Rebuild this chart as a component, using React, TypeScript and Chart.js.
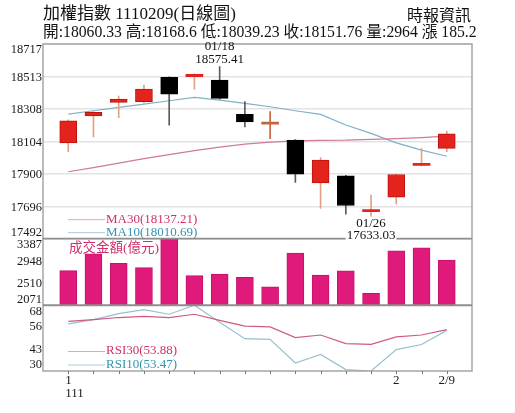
import { useEffect, useRef } from "react";
import { Chart, registerables } from "chart.js";

Chart.register(...registerables);

// ---- data ----
const dates = ["01/10", "01/11", "01/12", "01/13", "01/14", "01/17", "01/18", "01/19", "01/20", "01/21", "01/24", "01/25", "01/26", "02/07", "02/08", "02/09"];
const opens = [18095, 18265, 18350, 18354, 18507, 18511, 18490, 18274, 18213, 18112, 17843, 17888, 17662, 17753, 17953, 18060.33];
const closes = [18234, 18287, 18371, 18434, 18402, 18526, 18375, 18226, 18213, 17898, 17986, 17701, 17674.4, 17896, 17963, 18151.76];
const highs = [18240, 18292, 18389, 18459, 18510, 18530, 18575.41, 18354, 18291, 18115, 18003, 17890, 17766, 17898, 18060, 18168.6];
const lows = [18039, 18133, 18253, 18347, 18207, 18432, 18370, 18196, 18121, 17846, 17682, 17646, 17633.03, 17709, 17950, 18039.23];
const ma10 = [18276, 18297, 18318, 18339, 18360, 18381, 18364, 18343, 18322, 18297, 18274, 18207, 18155, 18095, 18049, 18010.69];
const ma30 = [17913, 17939, 17967, 17996, 18021, 18046, 18068, 18087, 18100, 18108, 18111, 18112, 18117, 18122, 18128, 18137.21];
const volumes = [2755, 3088, 2902, 2815, 3520, 2655, 2689, 2623, 2436, 3102, 2669, 2749, 2304, 3148, 3208, 2964];
const rsi30 = [58.7, 59.7, 60.9, 61.6, 60.9, 62.8, 59.3, 55.9, 55.5, 49.3, 50.8, 45.8, 45.4, 49.7, 50.8, 53.88];
const rsi10 = [57.2, 59.7, 63.2, 65.5, 62.8, 68.0, 58.2, 48.7, 48.3, 34.6, 39.6, 30.8, 30.0, 42.4, 45.3, 53.47];

const priceTicks = [17492, 17696, 17900, 18104, 18308, 18513, 18717];
const volTicks = [2071, 2510, 2948, 3387];
const rsiTicks = [30, 43, 56, 68];
const xTickPositions = [1, 14, 16];
const xTickLabels = [["1", "111"], ["2"], ["2/9"]];

const titleText = "加權指數 1110209(日線圖)";
const sourceText = "時報資訊";
const summaryText = "開:18060.33 高:18168.6 低:18039.23 收:18151.76 量:2964 漲 185.2";
const volTitle = "成交金額(億元)";
const highIndex = 6;
const lowIndex = 12;

const SERIF = '"Liberation Serif", "Noto Sans CJK TC", serif';
const UP = "#e5231d";
const UP_BORDER = "#b8140f";
const UP_WICK = "#e6a084";
const DOWN = "#000000";
const DOWN_WICK = "#5c5c5c";
const FLAT = "#c8643c";
const PINK_TEXT = "#d02f6e";
const BLUE_TEXT = "#2f95b5";

export default function App() {
  const ref = useRef<HTMLCanvasElement | null>(null);

  useEffect(() => {
    if (!ref.current) return;
    const xs = opens.map((_, i) => i + 1);
    const kind = (i: number) => (closes[i] === opens[i] ? 0 : closes[i] > opens[i] ? 1 : -1);

    const panelPlugin = {
      id: "panelPlugin",
      beforeDatasetDraw(chart: any, args: any) {
        const ds = chart.data.datasets[args.index];
        const ys = chart.scales[ds.yAxisID];
        const ca = chart.chartArea;
        const ctx = chart.ctx;
        ctx.save();
        ctx.beginPath();
        ctx.rect(ca.left, ys.top, ca.right - ca.left, ys.bottom - ys.top);
        ctx.clip();
      },
      afterDatasetDraw(chart: any) {
        chart.ctx.restore();
      },
      afterDraw(chart: any) {
        const ctx = chart.ctx;
        const ca = chart.chartArea;
        const sx = chart.scales.x;
        const yp = chart.scales.yPrice;
        const yv = chart.scales.yVol;
        const yr = chart.scales.yRsi;
        ctx.save();

        // frame & separators
        ctx.strokeStyle = "#a6a6a6";
        ctx.lineWidth = 1.5;
        ctx.strokeRect(ca.left, ca.top, ca.right - ca.left, ca.bottom - ca.top);
        ctx.strokeStyle = "#8e8e8e";
        ctx.lineWidth = 1.8;
        for (const yy of [yv.top, yr.top]) {
          ctx.beginPath();
          ctx.moveTo(ca.left, yy);
          ctx.lineTo(ca.right, yy);
          ctx.stroke();
        }

        // bottom tick marks
        ctx.strokeStyle = "#777";
        ctx.lineWidth = 1;
        xs.forEach((x) => {
          const px = Math.round(sx.getPixelForValue(x)) + 0.5;
          ctx.beginPath();
          ctx.moveTo(px, ca.bottom);
          ctx.lineTo(px, ca.bottom + 3);
          ctx.stroke();
        });

        // titles
        ctx.fillStyle = "#111";
        ctx.textBaseline = "middle";
        ctx.textAlign = "left";
        ctx.font = `17px ${SERIF}`;
        ctx.fillText(titleText, ca.left, 15);
        ctx.font = `15.7px ${SERIF}`;
        ctx.fillText(summaryText, ca.left, 32.5);
        ctx.font = `16px ${SERIF}`;
        ctx.textAlign = "right";
        ctx.fillText(sourceText, ca.right - 1, 17);

        // y tick labels
        ctx.font = `12.5px ${SERIF}`;
        ctx.fillStyle = "#1a1a1a";
        ctx.textAlign = "right";
        const drawTicks = (scale: any, ticks: number[]) => {
          ticks.forEach((v) => {
            let y = scale.getPixelForValue(v) + 1;
            y = Math.max(scale.top + 6, Math.min(scale.bottom - 6, y));
            ctx.fillText(String(v), ca.left - 1, y);
          });
        };
        drawTicks(yp, priceTicks);
        drawTicks(yv, volTicks);
        drawTicks(yr, rsiTicks);

        // x labels
        ctx.font = `13px ${SERIF}`;
        xTickPositions.forEach((pos, k) => {
          const px = sx.getPixelForValue(pos);
          const lines = xTickLabels[k];
          ctx.textAlign = lines.length > 1 ? "left" : "center";
          lines.forEach((t, j) => {
            ctx.fillText(t, lines.length > 1 ? px - 3 : px, ca.bottom + 9.5 + j * 13);
          });
        });

        // legends
        const legend = (y: number, text: string, lineColor: string, textColor: string) => {
          const x0 = ca.left + 25;
          ctx.strokeStyle = lineColor;
          ctx.lineWidth = 1;
          ctx.beginPath();
          ctx.moveTo(x0, y + 0.5);
          ctx.lineTo(x0 + 37, y + 0.5);
          ctx.stroke();
          ctx.fillStyle = textColor;
          ctx.textAlign = "left";
          ctx.fillText(text, x0 + 38, y);
        };
        ctx.font = `13px ${SERIF}`;
        legend(yp.bottom - 19.5, `MA30(${ma30[ma30.length - 1].toFixed(2)})`, "#e6a2b9", PINK_TEXT);
        legend(yp.bottom - 6.5, `MA10(${ma10[ma10.length - 1].toFixed(2)})`, "#a8cbd8", BLUE_TEXT);
        legend(yr.bottom - 20, `RSI30(${rsi30[rsi30.length - 1].toFixed(2)})`, "#e6a2b9", PINK_TEXT);
        legend(yr.bottom - 6.5, `RSI10(${rsi10[rsi10.length - 1].toFixed(2)})`, "#a8cbd8", BLUE_TEXT);
        ctx.font = `13.5px ${SERIF}`;
        ctx.fillStyle = PINK_TEXT;
        ctx.textAlign = "left";
        ctx.fillText(volTitle, ca.left + 26, yv.top + 9.5);

        // high / low annotations
        ctx.font = `13px ${SERIF}`;
        ctx.fillStyle = "#111";
        ctx.textAlign = "center";
        const hx = sx.getPixelForValue(highIndex + 1);
        const hy = yp.getPixelForValue(highs[highIndex]);
        ctx.fillText(dates[highIndex], hx, hy - 19.5);
        ctx.fillText(highs[highIndex].toFixed(2), hx, hy - 6.5);
        const lx = sx.getPixelForValue(lowIndex + 1);
        const ly = yp.getPixelForValue(lows[lowIndex]);
        ctx.fillText(dates[lowIndex], lx, ly + 7);
        const lowText = lows[lowIndex].toFixed(2);
        const w = ctx.measureText(lowText).width;
        ctx.fillStyle = "#ffffff";
        ctx.fillRect(lx - w / 2 - 1, ly + 13, w + 2, 12);
        ctx.fillStyle = "#111";
        ctx.fillText(lowText, lx, ly + 19);

        ctx.restore();
      },
    };

    const chart = new Chart(ref.current, {
      type: "bar",
      data: {
        datasets: [
          {
            type: "line",
            label: "MA30",
            data: xs.map((x, i) => ({ x, y: ma30[i] })),
            yAxisID: "yPrice",
            borderColor: "#cf7b97",
            borderWidth: 1.2,
            pointRadius: 0,
            order: 5,
          } as any,
          {
            type: "line",
            label: "MA10",
            data: xs.map((x, i) => ({ x, y: ma10[i] })),
            yAxisID: "yPrice",
            borderColor: "#7fb1c7",
            borderWidth: 1.2,
            pointRadius: 0,
            order: 5,
          },
          {
            type: "bar",
            label: "wick",
            data: xs.map((x, i) => ({ x, y: [lows[i], highs[i]] })),
            yAxisID: "yPrice",
            barThickness: 1,
            grouped: false,
            backgroundColor: xs.map((_, i) => (kind(i) === 0 ? FLAT : kind(i) > 0 ? UP_WICK : DOWN_WICK)),
            order: 2,
          },
          {
            type: "bar",
            label: "body",
            data: xs.map((x, i) => ({ x, y: [opens[i], closes[i]] })),
            yAxisID: "yPrice",
            barThickness: 17,
            minBarLength: 2,
            grouped: false,
            borderSkipped: false,
            backgroundColor: xs.map((_, i) => (kind(i) === 0 ? FLAT : kind(i) > 0 ? UP : DOWN)),
            borderColor: xs.map((_, i) => (kind(i) === 0 ? FLAT : kind(i) > 0 ? UP_BORDER : DOWN)),
            borderWidth: xs.map((_, i) => (kind(i) === 0 || Math.abs(closes[i] - opens[i]) < 20 ? 0 : 1)),
            order: 1,
          },
          {
            type: "bar",
            label: "volume",
            data: xs.map((x, i) => ({ x, y: volumes[i] })),
            yAxisID: "yVol",
            barThickness: 17,
            grouped: false,
            borderSkipped: false,
            backgroundColor: "#df1a7a",
            borderColor: "#c4126b",
            borderWidth: 1,
            order: 1,
          },
          {
            type: "line",
            label: "RSI30",
            data: xs.map((x, i) => ({ x, y: rsi30[i] })),
            yAxisID: "yRsi",
            borderColor: "#d05a82",
            borderWidth: 1.2,
            pointRadius: 0,
            order: 3,
          },
          {
            type: "line",
            label: "RSI10",
            data: xs.map((x, i) => ({ x, y: rsi10[i] })),
            yAxisID: "yRsi",
            borderColor: "#98c0cf",
            borderWidth: 1.2,
            pointRadius: 0,
            order: 3,
          },
        ] as any,
      },
      options: {
        animation: false,
        responsive: true,
        maintainAspectRatio: false,
        events: [],
        layout: { padding: { left: 43, top: 44, right: 43, bottom: 42 } },
        plugins: { legend: { display: false }, tooltip: { enabled: false } },
        scales: {
          x: { type: "linear", min: 0, max: 17, offset: false, display: false },
          yRsi: {
            type: "linear",
            position: "left",
            stack: "panels",
            stackWeight: 65.7,
            min: 30,
            max: 68,
            ticks: { display: false },
            grid: { display: false, drawTicks: false },
            border: { display: false },
          },
          yVol: {
            type: "linear",
            position: "left",
            stack: "panels",
            stackWeight: 66.5,
            min: 2071,
            max: 3387,
            ticks: { display: false },
            grid: { display: false, drawTicks: false },
            border: { display: false },
          },
          yPrice: {
            type: "linear",
            position: "left",
            stack: "panels",
            stackWeight: 194.5,
            min: 17492,
            max: 18717,
            afterBuildTicks: (s: any) => {
              s.ticks = priceTicks.map((value) => ({ value }));
            },
            ticks: { display: false },
            grid: { color: "#e3e3e3", lineWidth: 1.5, drawTicks: false },
            border: { display: false },
          },
        } as any,
      },
      plugins: [panelPlugin],
    });
    return () => chart.destroy();
  }, []);

  return (
    <div style={{ position: "absolute", left: 0, top: 0, width: 515, height: 413, background: "#fff" }}>
      <canvas ref={ref} />
    </div>
  );
}
